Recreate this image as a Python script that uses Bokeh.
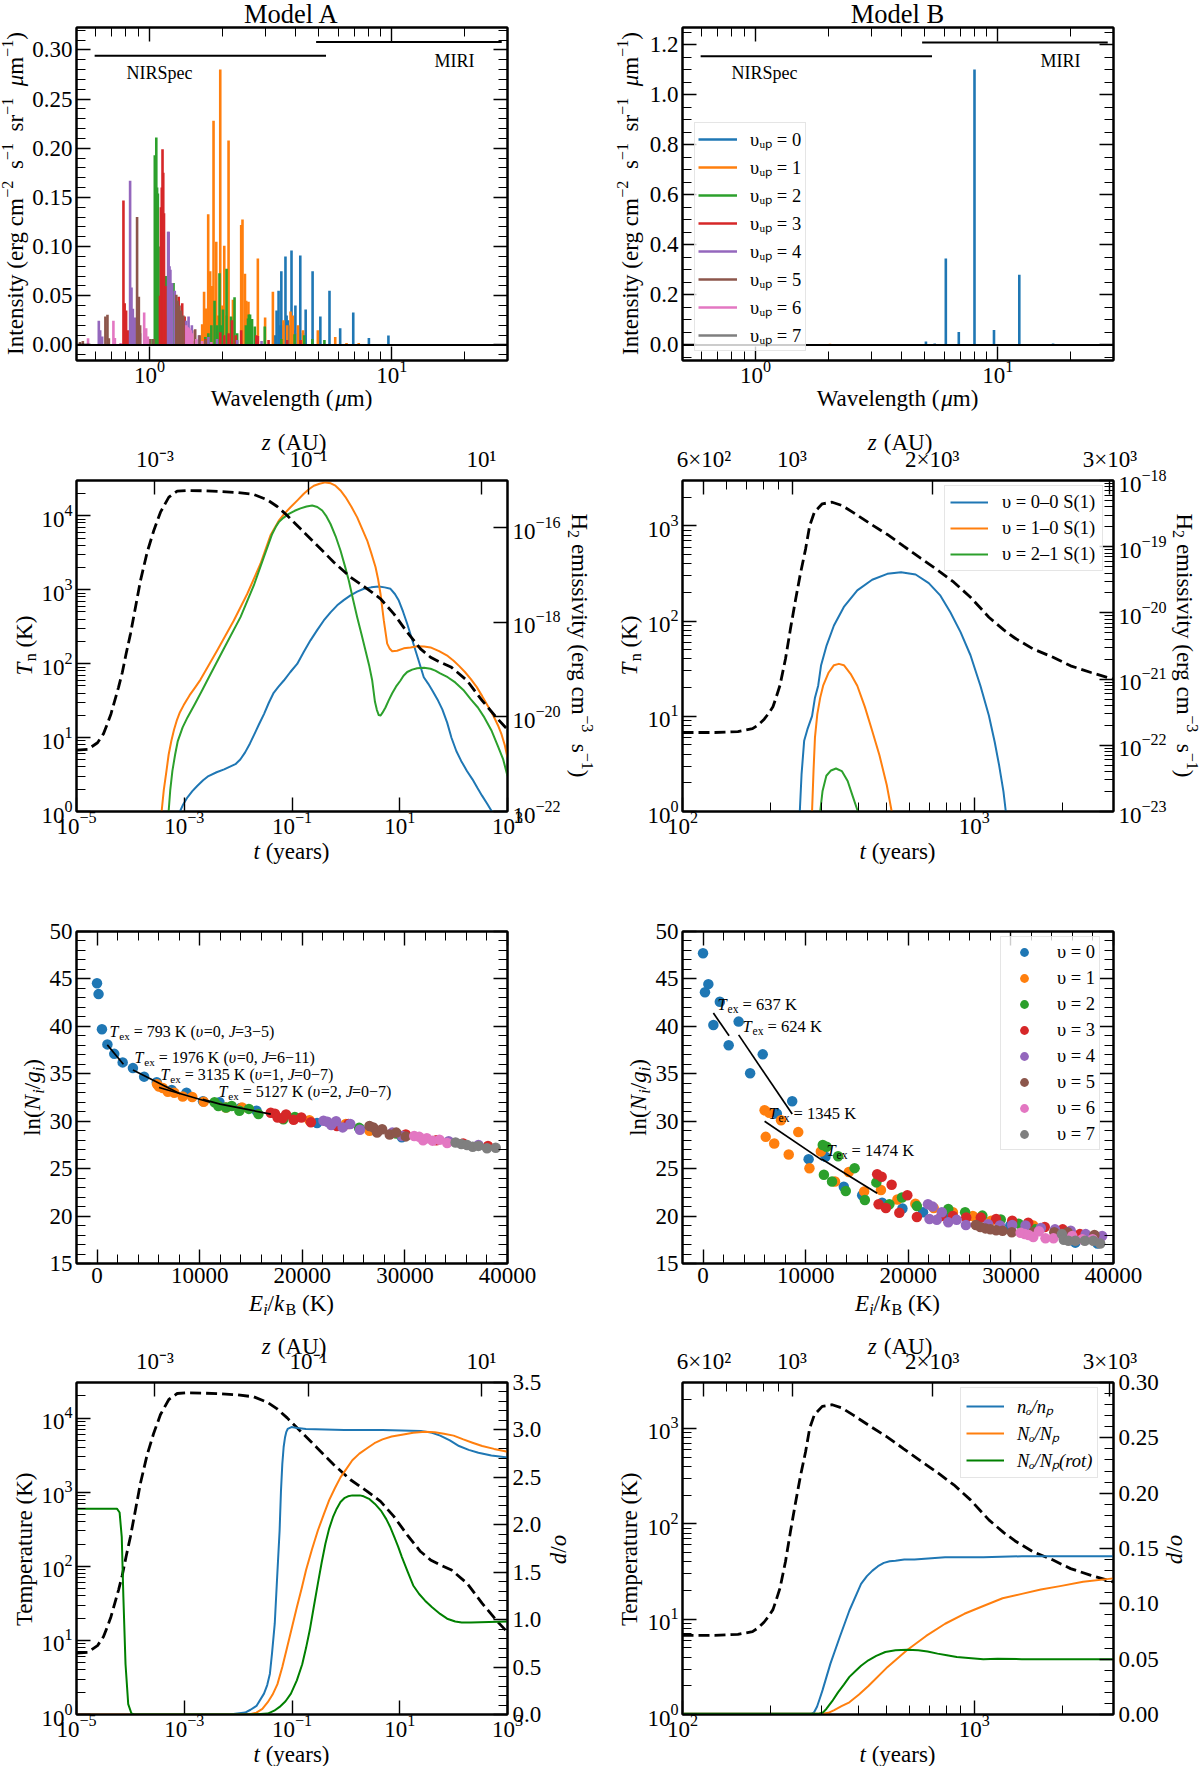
import math
import numpy as np
from bokeh.plotting import figure
from bokeh.layouts import column, row
from bokeh.models import (Range1d, LinearAxis, LogAxis, FixedTicker, LogTickFormatter, PrintfTickFormatter,
                          LogScale, LinearScale, Label, Legend, LegendItem, Span)
from bokeh.embed import file_html
from bokeh.resources import INLINE

FONT = "Liberation Serif"
TAB = ["#1f77b4", "#ff7f0e", "#2ca02c", "#d62728", "#9467bd", "#8c564b", "#e377c2", "#7f7f7f"]
DGREEN = "#008000"

# ---- spectra: Model A
specA_v0_wl = [3.3,3.346,3.41,3.46,3.5,3.55,3.64,3.68,3.73,3.8,3.855,3.93,4.0,4.1,4.19,4.3,4.41,4.71,5.07,5.53,6.12,6.93,8.04,9.68,12.3,17.1]
specA_v0_I = [.01,.035,.055,.02,.075,.02,.09,.03,.025,.02,.096,.015,.04,.012,.091,.012,.036,.075,.029,.055,.017,.033,.007,.0095,.001,.0006]
specA_v1_wl = [1.4,1.5,1.65,1.68,1.714,1.747,1.78,1.815,1.838,1.86,1.886,1.92,1.959,2.0,2.035,2.08,2.12,2.21,2.39,2.42,2.477,2.507,2.56,2.62,2.8,3.0,3.23,3.57,3.7,3.82,3.9,4.1,4.3,4.95,5.84,6.5,7.3]
specA_v1_I = [.003,.004,.021,.054,.037,.133,.075,.06,.228,.04,.105,.03,.28,.04,.101,.03,.208,.046,.122,.1276,.0725,.045,.044,.02,.088,.028,.054,.025,.02,.034,.03,.02,.015,.015,.008,.002,.002]
specA_v2_wl = [1.03,1.052,1.06,1.067,1.075,1.083,1.09,1.17,1.257,1.6,1.7,1.75,1.8,1.856,1.9,1.945,1.98,2.01,2.08,2.17,2.244,2.3,2.5,2.55,2.57,2.6,2.65,2.72,2.99,3.5,3.97,4.35,4.7,5.27]
specA_v2_I = [.006,.193,.19,.211,.16,.154,.10,.07,.063,.005,.008,.012,.02,.045,.02,.073,.02,.036,.0775,.029,.0486,.012,.02,.027,.031,.031,.0265,.0187,.0187,.006,.011,.01,.006,.005]
specA_v3_wl = [.781,.79,.801,.817,1.105,1.115,1.124,1.132,1.14,1.148,1.165,1.19,1.32,1.365,1.397,1.5,1.7,1.96,2.035,2.12,2.19,2.27,2.39,2.76,2.8,3.1,3.7,4.2]
specA_v3_I = [.147,.0425,.035,.015,.05,.14,.16,.199,.175,.134,.06,.03,.049,.0425,.029,.015,.006,.013,.01,.012,.025,.01,.015,.01,.009,.005,.005,.005]
specA_v4_wl = [.618,.626,.638,.832,.843,.854,.87,.915,1.194,1.2,1.21,1.22,1.24,1.272,1.417,1.45,1.496,1.6,1.75,1.9,2.3,2.9]
specA_v4_I = [.0245,.015,.0085,.167,.0585,.0367,.028,.012,.115,.115,.08,.0765,.063,.055,.0245,.029,.02,.01,.008,.006,.005,.004]
specA_v5_wl = [.517,.531,.658,.671,.68,.889,.904,.915,1.006,1.039,1.29,1.31,1.33,1.35,1.38,1.544,1.61,1.7]
specA_v5_I = [.003,.004,.029,.0306,.0068,.13,.049,.02,.006,.006,.051,.045,.04,.035,.03,.016,.01,.005]
specA_v6_wl = [.558,.71,.72,.76,.951,.969,.985,1.42,1.44,1.46,1.48,1.5,1.56,1.65,1.8]
specA_v6_I = [.0068,.0245,.007,.002,.033,.017,.0085,.02,.018,.017,.015,.012,.006,.004,.003]
specA_v7_wl = [.56,.6]
specA_v7_I = [.0005,.0005]

# ---- spectra: Model B
specB_v0_wl = [5.05,5.49,6.1,6.9,8.01,9.64,12.26,16.9]
specB_v0_I = [.014,.006,.345,.052,1.10,.06,.28,.006]
specB_v1_wl = [1.88,2.03,2.23,2.42,2.62,2.98]
specB_v1_I = [.002,.005,.004,.004,.002,.002]
specB_v2_wl = [2.4]
specB_v2_I = [.001]
specB_v3_wl = [1.2]
specB_v3_I = [.0005]
specB_v4_wl = [1.1]
specB_v4_I = [.0005]
specB_v5_wl = [1.0]
specB_v5_I = [.0003]
specB_v6_wl = [0.9]
specB_v6_I = [.0003]
specB_v7_wl = [0.8]
specB_v7_I = [.0003]

nirspec_wl = [0.594, 5.35]
miri_wl = [4.87, 28.4]
nirspec_A = [.294, .294]
miri_A = [.308, .308]
nirspec_B = [1.153, 1.153]
miri_B = [1.208, 1.208]

# ---- temperature profiles (log10)
logt_TA = [-5,-4.79,-4.61,-4.50,-4.43,-4.36,-4.29,-4.22,-4.15,-4.08,-3.998,-3.905,-3.812,-3.688,-3.565,-3.441,-3.286,-3.131,-2.945,-2.637,-2.327,-2.017,-1.709,-1.46,-1.275,-1.089,-0.842,-0.532,-0.224,0.086,0.396,0.643,0.89,1.138,1.385,1.571,1.75,1.96,2.25,2.53,2.82,3.00]
logT_A = [.83,.84,.93,1.05,1.18,1.32,1.50,1.68,1.88,2.13,2.403,2.764,3.125,3.508,3.801,4.049,4.252,4.333,4.342,4.338,4.328,4.315,4.288,4.216,4.125,4.004,3.824,3.598,3.372,3.169,3.012,2.877,2.674,2.425,2.2,2.087,2.02,1.95,1.77,1.50,1.25,1.11]
logt_TB = [2.00,2.11,2.19,2.24,2.26,2.28,2.295,2.31,2.32,2.334,2.353,2.370,2.387,2.404,2.422,2.436,2.452,2.479,2.513,2.547,2.587,2.644,2.702,2.758,2.816,2.873,2.930,2.987,3.050,3.10,3.14,3.20,3.27,3.33,3.40,3.477]
logT_B = [.83,.83,.84,.87,.91,.97,1.03,1.10,1.19,1.324,1.604,1.919,2.216,2.497,2.759,3.004,3.144,3.232,3.249,3.214,3.137,3.022,2.910,2.787,2.661,2.539,2.409,2.251,2.041,1.91,1.82,1.71,1.62,1.53,1.46,1.39]

# ---- emissivities (log10), Model A
emA_00_t, emA_00_e = map(list, zip(*[(-3.08,-22),(-3.02,-21.85),(-2.94,-21.70),(-2.85,-21.57),(-2.76,-21.46),(-2.65,-21.34),(-2.55,-21.25),(-2.4,-21.17),(-2.26,-21.11),(-2.05,-21.0),(-1.96,-20.9),(-1.87,-20.75),(-1.78,-20.56),(-1.70,-20.37),(-1.61,-20.15),(-1.52,-19.94),(-1.43,-19.70),(-1.34,-19.49),(-1.25,-19.36),(-1.152,-19.23),(-1.03,-19.05),(-0.904,-18.88),(-0.78,-18.62),(-0.657,-18.38),(-0.53,-18.16),(-0.41,-17.96),(-0.285,-17.79),(-0.161,-17.64),(-0.04,-17.53),(0.086,-17.43),(0.21,-17.35),(0.333,-17.29),(0.47,-17.26),(0.611,-17.24),(0.72,-17.26),(0.828,-17.29),(0.91,-17.40),(0.982,-17.54),(1.06,-17.77),(1.138,-18.03),(1.215,-18.31),(1.292,-18.595),(1.37,-18.88),(1.446,-19.16),(1.53,-19.3),(1.61,-19.45),(1.7,-19.63),(1.79,-19.84),(1.88,-20.12),(1.96,-20.44),(2.05,-20.72),(2.14,-20.93),(2.25,-21.15),(2.35,-21.32),(2.44,-21.5),(2.53,-21.67),(2.62,-21.83),(2.71,-22)]))
emA_10_t, emA_10_e = map(list, zip(*[(-3.42,-22),(-3.38,-21.55),(-3.33,-21.14),(-3.29,-20.8),(-3.24,-20.51),(-3.19,-20.27),(-3.14,-20.08),(-3.08,-19.9),(-3.01,-19.75),(-2.9,-19.54),(-2.8,-19.38),(-2.698,-19.21),(-2.389,-18.595),(-2.08,-17.96),(-1.832,-17.40),(-1.585,-16.76),(-1.399,-16.16),(-1.245,-15.85),(-1.14,-15.7),(-1.028,-15.565),(-0.9,-15.42),(-0.781,-15.28),(-0.68,-15.18),(-0.595,-15.11),(-0.49,-15.07),(-0.378,-15.04),(-0.28,-15.06),(-0.193,-15.11),(-0.1,-15.21),(-0.007,-15.35),(0.1,-15.55),(0.21,-15.78),(0.3,-16.02),(0.396,-16.27),(0.47,-16.53),(0.55,-16.83),(0.6,-17.1),(0.643,-17.40),(0.704,-17.96),(0.735,-18.2),(0.767,-18.45),(0.815,-18.56),(0.86,-18.61),(0.95,-18.6),(1.075,-18.55),(1.2,-18.53),(1.324,-18.505),(1.45,-18.51),(1.571,-18.53),(1.73,-18.61),(1.89,-18.71),(2.0,-18.81),(2.10,-18.92),(2.21,-19.05),(2.32,-19.20),(2.43,-19.37),(2.53,-19.56),(2.63,-19.76),(2.74,-19.98),(2.82,-20.17),(2.89,-20.37),(2.95,-20.6),(3.00,-20.86)]))
emA_21_t, emA_21_e = map(list, zip(*[(-3.29,-22),(-3.26,-21.55),(-3.22,-21.14),(-3.17,-20.8),(-3.12,-20.51),(-3.03,-20.22),(-2.94,-20.01),(-2.8,-19.72),(-2.66,-19.42),(-2.574,-19.23),(-2.266,-18.56),(-1.956,-17.89),(-1.709,-17.22),(-1.523,-16.62),(-1.368,-16.13),(-1.3,-15.98),(-1.245,-15.88),(-1.16,-15.79),(-1.059,-15.705),(-0.95,-15.64),(-0.842,-15.59),(-0.73,-15.55),(-0.625,-15.53),(-0.53,-15.56),(-0.439,-15.635),(-0.36,-15.76),(-0.285,-15.92),(-0.19,-16.18),(-0.10,-16.48),(-0.02,-16.8),(0.054,-17.115),(0.13,-17.5),(0.21,-17.89),(0.29,-18.25),(0.364,-18.595),(0.43,-18.9),(0.489,-19.23),(0.54,-19.68),(0.575,-19.85),(0.61,-19.96),(0.645,-19.97),(0.68,-19.91),(0.735,-19.8),(0.79,-19.66),(0.86,-19.5),(0.93,-19.36),(1.014,-19.23),(1.07,-19.13),(1.138,-19.05),(1.23,-19.0),(1.324,-18.97),(1.45,-18.96),(1.571,-18.98),(1.66,-19.02),(1.75,-19.08),(1.89,-19.16),(2.03,-19.27),(2.18,-19.43),(2.32,-19.63),(2.45,-19.8),(2.57,-20.01),(2.7,-20.28),(2.82,-20.61),(2.92,-20.9),(3.00,-21.25)]))

# ---- emissivities (log10), Model B
emB_00_t = [2.402,2.408,2.417,2.428,2.444,2.454,2.465,2.475,2.494,2.519,2.553,2.599,2.650,2.702,2.749,2.799,2.844,2.884,2.918,2.953,2.987,3.021,3.05,3.07,3.085,3.10,3.108]
emB_00_e = [-23,-22.44,-21.93,-21.76,-21.56,-21.28,-21.10,-20.79,-20.49,-20.19,-19.91,-19.66,-19.50,-19.41,-19.385,-19.42,-19.55,-19.74,-19.99,-20.29,-20.64,-21.10,-21.55,-21.95,-22.3,-22.7,-23]
emB_10_t = [2.444,2.449,2.454,2.462,2.472,2.482,2.501,2.519,2.536,2.553,2.576,2.599,2.625,2.650,2.675,2.700,2.717]
emB_10_e = [-23,-22.39,-21.88,-21.53,-21.28,-21.10,-20.90,-20.79,-20.77,-20.79,-20.92,-21.10,-21.42,-21.78,-22.15,-22.6,-23]
emB_21_t = [2.472,2.480,2.493,2.509,2.526,2.546,2.566,2.585,2.601]
emB_21_e = [-23,-22.69,-22.46,-22.38,-22.35,-22.39,-22.54,-22.79,-23]

# ---- ortho/para, Model A
opA_n_t, opA_n = map(list, zip(*[(-5,0),(-2.16,0),(-1.87,.02),(-1.77,.05),(-1.66,.09),(-1.52,.22),(-1.46,.31),(-1.41,.43),(-1.37,.65),(-1.32,.96),(-1.28,1.40),(-1.23,1.94),(-1.205,2.35),(-1.18,2.64),(-1.155,2.82),(-1.13,2.92),(-1.105,2.98),(-1.08,3.01),(-1.01,3.03),(-0.9,3.02),(-0.74,3.01),(-0.03,3.00),(0.68,3.00),(1.39,2.99),(1.6,2.97),(1.75,2.94),(1.93,2.89),(2.10,2.83),(2.28,2.79),(2.46,2.76),(2.7,2.73),(3.00,2.71)]))
opA_N_t, opA_N = map(list, zip(*[(-5,0),(-1.87,0),(-1.76,.005),(-1.66,.02),(-1.55,.06),(-1.45,.13),(-1.36,.21),(-1.27,.32),(-1.18,.50),(-1.09,.71),(-1.0,.92),(-0.91,1.13),(-0.82,1.33),(-0.74,1.52),(-0.63,1.74),(-0.52,1.94),(-0.41,2.11),(-0.31,2.26),(-0.2,2.39),(-0.10,2.50),(0.01,2.59),(0.12,2.68),(0.25,2.75),(0.40,2.81),(0.53,2.86),(0.68,2.90),(0.85,2.93),(1.04,2.95),(1.25,2.97),(1.47,2.98),(1.65,2.975),(1.82,2.96),(2.0,2.94),(2.18,2.90),(2.35,2.865),(2.53,2.83),(2.75,2.80),(3.00,2.77)]))
opA_R_t, opA_R = map(list, zip(*[(-5,2.17),(-4.25,2.17),(-4.20,2.13),(-4.16,1.87),(-4.13,1.24),(-4.09,.53),(-4.04,.11),(-3.98,.01),(-3.93,0),(-1.87,0),(-1.65,.002),(-1.45,.01),(-1.33,.04),(-1.23,.08),(-1.12,.14),(-1.02,.22),(-0.91,.36),(-0.81,.53),(-0.74,.70),(-0.67,.89),(-0.60,1.12),(-0.52,1.38),(-0.45,1.60),(-0.38,1.80),(-0.31,1.96),(-0.24,2.08),(-0.17,2.17),(-0.10,2.24),(-0.03,2.28),(0.04,2.30),(0.12,2.31),(0.19,2.31),(0.26,2.31),(0.33,2.30),(0.44,2.27),(0.54,2.22),(0.65,2.15),(0.75,2.06),(0.82,1.98),(0.90,1.87),(0.97,1.77),(1.04,1.66),(1.15,1.50),(1.25,1.36),(1.36,1.27),(1.47,1.20),(1.60,1.13),(1.75,1.06),(1.88,1.01),(2.03,.98),(2.15,.97),(2.32,.97),(3.00,.98)]))

# ---- ortho/para, Model B
opB_n_t, opB_n = map(list, zip(*[(2.0,.0006),(2.441,.0006),(2.451,.002),(2.461,.007),(2.470,.014),(2.480,.022),(2.507,.046),(2.539,.070),(2.572,.094),(2.612,.118),(2.632,.125),(2.651,.130),(2.67,.134),(2.690,.137),(2.71,.1385),(2.730,.139),(2.76,.14),(2.795,.140),(2.900,.142),(3.031,.142),(3.163,.143),(3.477,.143)]))
opB_N_t, opB_N = map(list, zip(*[(2.0,.0006),(2.480,.0006),(2.50,.0015),(2.520,.004),(2.545,.0075),(2.572,.011),(2.605,.018),(2.638,.026),(2.703,.043),(2.769,.058),(2.835,.071),(2.900,.082),(2.966,.091),(3.031,.098),(3.097,.105),(3.163,.109),(3.228,.113),(3.294,.116),(3.373,.120),(3.477,.123)]))
opB_R_t, opB_R = map(list, zip(*[(2.0,.0006),(2.467,.0006),(2.48,.0015),(2.493,.005),(2.513,.012),(2.533,.020),(2.553,.027),(2.572,.034),(2.592,.039),(2.612,.044),(2.637,.049),(2.664,.053),(2.695,.0565),(2.730,.058),(2.77,.0585),(2.808,.058),(2.84,.057),(2.874,.055),(2.906,.0535),(2.940,.052),(2.98,.051),(3.031,.050),(3.08,.0503),(3.163,.050),(3.477,.050)]))

# ---- excitation diagrams, Model A
exA_E = [
 [0,150,480,1010,1680,2500,3500,4590,5820,7270,8720,10330,11930,13980,15550,21440,25600,29700],
 [5850,6040,6410,6900,7530,8350,9280,10400,12570,14130,20700,24240,26550],
 [11450,11820,12570,13120,13870,14800,15730,18160,19280,25540,29160],
 [16930,17340,17600,18080,18420,19160,19910,20840,23380,24500,30090,33070,35680,38100],
 [22070,22450,22820,23300,23940,24680,25620,28780,29720,34270,37170],
 [26550,26920,27290,27780,28520,29160,30090],
 [30910,31400,31770,32140,32700,33370,34120],
 [34940,35500,36060,36610,37170,38000,38850],
]
exA_lnN = [
 [44.55,43.4,39.7,38.1,37.1,36.2,35.6,34.7,34.1,33.3,33.0,32.1,32.0,31.4,31.1,29.8,29.2,28.3],
 [33.9,33.65,33.5,33.1,33.0,32.6,32.55,32.05,31.45,31.45,30.1,29.7,29.0],
 [32.0,31.6,31.45,31.6,31.1,31.3,30.75,30.2,30.45,29.3,28.7],
 [30.9,30.8,30.4,30.3,30.7,30.15,30.4,29.9,29.5,29.7,28.6,28.0,27.65,27.4],
 [30.05,29.95,29.6,30.0,29.35,29.7,29.1,28.8,28.45,27.9,27.5],
 [29.5,29.35,28.8,29.15,28.6,28.8,28.4],
 [28.45,28.35,28.0,28.2,27.95,28.05,27.7],
 [27.75,27.6,27.5,27.3,27.4,27.15,27.2],
]
fitA_E = [[1000,2570],[3500,8090],[6040,11000],[10300,12000,16930]]
fitA_lnN = [[38.05,36.0],[35.4,32.9],[33.55,32.0],[32.3,31.8,30.75]]

# ---- excitation diagrams, Model B
exB_E = [
 [0,190,520,1010,1640,2500,3470,4590,5820,7200,8690,10290,11930,13720,15510,17450,19430,21440,23600,29940,36280,38440],
 [6000,6450,7600,9280,6110,6940,8350,10370,11480,12860,14210,15700,17340,18940,20690,22480,24350,26290,28080,32180],
 [11670,12040,13160,14770,11780,12570,13910,15770,16890,19390,18160,20840,23900,25540,27220,29010,30760,32360],
 [16970,17410,18380,19910,17110,17820,19130,20840,23230,24350,25650,27070,28560,30130,31690,33300,35050,36730,38140],
 [21920,22370,23270,22070,22780,23900,24720,25620,27780,28930,30130,31430,32920,34300,35830,37290,38890],
 [26590,27030,27520,28000,28560,29190,30090,32180,34230,35530,38140],
 [30950,31360,31730,32180,32740,33370,34150,35980,36950,37960],
 [34970,35160,35610,36280,37210,38030,38700],
]
exB_lnN = [
 [47.7,43.6,44.45,40.15,42.6,38.0,40.5,35.05,37.05,30.8,32.1,26.0,26.25,23.1,22.2,21.4,20.8,20.4,20.2,19.0,17.2,17.1],
 [31.15,30.9,30.1,28.85,28.35,27.65,26.5,25.05,26.8,23.65,24.65,22.6,22.75,21.75,21.3,20.85,20.4,20.0,19.5,19.0],
 [27.5,27.3,26.3,25.05,24.35,23.65,22.65,21.7,23.55,21.95,21.25,21.05,20.75,20.4,20.05,19.65,19.2,18.6],
 [24.4,24.15,23.3,22.2,21.25,20.85,20.35,19.9,20.0,20.0,19.85,19.85,19.7,19.5,19.3,18.85,18.6,18.1,17.9],
 [21.25,21.0,20.4,19.7,19.6,19.35,19.6,19.05,19.15,19.0,19.05,19.0,18.75,18.6,18.45,18.1,17.9],
 [19.05,18.85,18.7,18.6,18.5,18.45,18.3,18.3,18.3,18.3,18.0],
 [18.25,18.1,18.0,17.8,18.4,17.65,17.65,17.9,17.55,17.55],
 [18.1,17.5,17.4,17.4,17.4,17.4,17.1],
]
fitB_E = [[1010,2540],[3470,8690],[6000,11600],[11600,16970]]
fitB_lnN = [[41.4,39.0],[39.1,30.75],[30.0,25.9],[26.0,22.4]]

# ---- tick positions
z_top_A_pos = [-3.544, -0.694, 2.517]
z_top_A_lab = ["10⁻³", "10⁻¹", "10¹"]
z_top_B_pos = [2.0735, 2.3753, 2.8556, 3.4646]
z_top_B_lab = ["6×10²", "10³", "2×10³", "3×10³"]
z_top_B_minor = [2.152, 2.218, 2.277, 2.329]

# ---- layout
WIDE = 600
HEIGHT = [420, 460, 460, 426]
TOP = [27, 60, 51, 42]
BOTTOM = [60, 69, 77, 52]
LEFT = [76, 82]
RIGHT = [93, 87]
PAGE_H = sum(HEIGHT)
TICK_PX = "23px"

overlay = figure(width=1200, height=PAGE_H, x_range=Range1d(0, 1200), y_range=Range1d(0, PAGE_H),
                 min_border_left=0, min_border_right=0, min_border_top=0, min_border_bottom=0,
                 output_backend="svg", toolbar_location=None, margin=(-PAGE_H, 0, 0, 0))
overlay.axis.visible = False
overlay.grid.visible = False
overlay.outline_line_color = None
overlay.background_fill_color = None
overlay.border_fill_color = None

WID = {' ':.25,'a':.444,'b':.5,'c':.444,'d':.5,'e':.444,'f':.333,'g':.5,'h':.5,'i':.278,'j':.278,'k':.5,'l':.278,'m':.778,
       'n':.5,'o':.5,'p':.5,'q':.5,'r':.333,'s':.389,'t':.278,'u':.5,'v':.5,'w':.722,'x':.5,'y':.5,'z':.444,'(':.333,')':.333,
       '.':.25,',':.25,'=':.564,'−':.564,'–':.5,'/':.278,'I':.333,'N':.722,'W':.944,'M':.889,'A':.722,'B':.667,'E':.611,'H':.722,
       'K':.722,'R':.667,'S':.556,'T':.611,'J':.389,'μ':.5,'υ':.5}

def seg_width(s, size):
    return sum(WID.get(c, .5) for c in s) * size

STY = {'r': (1, 0, 'normal'), 'i': (1, 0, 'italic'), '^': (.7, .42, 'normal'), '_': (.7, -.2, 'normal'), 'I': (.7, -.2, 'italic')}
BASE_FIX = 0.27

def txt(X, Y, segs, size, angle=0, center=False):
    """Place a run of styled text pieces, with X, Y the page position of the baseline start or centre."""
    if isinstance(segs, str):
        segs = [(segs, 'r')]
    ca, sa = math.cos(math.radians(angle)), math.sin(math.radians(angle))
    total = sum(seg_width(s, size * STY[k][0]) for s, k in segs)
    x, y = X, PAGE_H - Y
    if center:
        x -= ca * total / 2
        y -= sa * total / 2
    adv = 0
    for s, k in segs:
        f, sh, st = STY[k]
        sz = size * f
        lead = seg_width(s[:len(s) - len(s.lstrip())], sz)
        sh2 = sh * size + BASE_FIX * sz
        a2 = adv + lead
        overlay.add_layout(Label(x=x + a2 * ca - sh2 * sa, y=y + a2 * sa + sh2 * ca,
                                 x_units="screen", y_units="screen", text=s.strip(), angle=angle, angle_units="deg",
                                 text_font=FONT, text_font_size=f"{sz:.1f}px", text_font_style=st, text_color="black",
                                 text_align="left", text_baseline="alphabetic"))
        adv += seg_width(s, sz)

def logminor(lo, hi):
    out = []
    for e in range(lo, hi):
        for m in range(2, 10):
            out.append(m * 10.0 ** e)
    return out

def style_ax(ax, major, minor, fmt=None, labels=True, standoff=4):
    ax.ticker = FixedTicker(ticks=major, minor_ticks=minor)
    ax.major_tick_in = 14
    ax.major_tick_out = 0
    ax.minor_tick_in = 9
    ax.minor_tick_out = 0
    ax.major_tick_line_color = "black"
    ax.minor_tick_line_color = "black"
    ax.major_tick_line_width = 1.4
    ax.minor_tick_line_width = 1.0
    ax.axis_line_color = "black"
    ax.axis_line_width = 2
    ax.major_label_text_font = FONT
    ax.major_label_text_font_size = TICK_PX
    ax.major_label_text_color = "black" if labels else None
    ax.major_label_standoff = standoff
    if fmt is not None:
        ax.formatter = fmt

def panel(c, r, xr, yr, xtype="linear", ytype="linear"):
    p = figure(width=WIDE, height=HEIGHT[r], x_axis_type=xtype, y_axis_type=ytype,
               x_range=Range1d(*xr), y_range=Range1d(*yr),
               min_border_left=LEFT[c], min_border_right=RIGHT[c], min_border_top=TOP[r], min_border_bottom=BOTTOM[r],
               output_backend="svg", toolbar_location=None)
    p.grid.visible = False
    p.outline_line_color = "black"
    p.outline_line_width = 2
    return p

def make_legend(p, items, loc, gw, st, lw, gh, lh, sp, pad, italic=False):
    lg = Legend(items=[LegendItem(label=t, renderers=[rd]) for t, rd in items], location=loc, orientation="vertical",
                glyph_width=gw, glyph_height=gh, label_standoff=st, label_width=lw, label_height=lh, spacing=sp,
                padding=pad, margin=0, label_text_font=FONT, label_text_font_size="18.5px",
                label_text_font_style="italic" if italic else "normal", label_text_color="black",
                border_line_color="#cccccc", border_line_width=1.5, background_fill_color="white", background_fill_alpha=0.8)
    p.add_layout(lg)

MINOR_SPEC = [.5,.6,.7,.8,.9,2.,3.,4.,5.,6.,7.,8.,9.,20.,30.]

def spectrum(c, xs, hs, ylim, ymaj, ymin, fmt, nir, mir, title, nx, mx):
    p = panel(c, 0, (0.5, 30), ylim, xtype="log")
    rs = []
    for i in range(8):
        rs.append(p.segment(x0=xs[i], x1=xs[i], y0=[0] * len(xs[i]), y1=hs[i], line_color=TAB[i], line_width=2.6))
    p.add_layout(Span(location=0, dimension="width", line_color="black", line_width=2))
    p.line(nirspec_wl, nir, line_color="black", line_width=2)
    p.line(miri_wl, mir, line_color="black", line_width=2)
    style_ax(p.xaxis[0], [1, 10], MINOR_SPEC, LogTickFormatter(), standoff=0)
    style_ax(p.yaxis[0], ymaj, ymin, PrintfTickFormatter(format=fmt))
    top = LogAxis()
    style_ax(top, [1, 10], MINOR_SPEC, labels=False)
    p.add_layout(top, "above")
    right = LinearAxis()
    style_ax(right, ymaj, ymin, labels=False)
    p.add_layout(right, "right")
    txt([291, 897][c], 21, title, 26.5, center=True)
    txt([291, 897][c], 404, [("Wavelength (", 'r'), ("μ", 'i'), ("m)", 'r')], 23, center=True)
    txt([21.5, 636][c], 193, [("Intensity (erg cm", 'r'), ("−2", '^'), ("  s", 'r'), ("−1", '^'), ("  sr", 'r'), ("−1", '^'), ("  ", 'r'), ("μ", 'i'), ("m", 'r'), ("−1", '^'), (")", 'r')], 23, angle=90, center=True)
    txt(nx[0], nx[1], "NIRSpec", 18)
    txt(mx[0], mx[1], "MIRI", 18)
    return p, rs

def pw(a):
    return [10.0 ** v for v in a]

def ttop(p, xr, pos, lab, minor):
    p.extra_x_ranges = {"ztop": Range1d(*xr)}
    p.extra_x_scales = {"ztop": LinearScale()}
    top = LinearAxis(x_range_name="ztop")
    style_ax(top, pos, minor, standoff=9)
    top.major_label_overrides = dict(zip(pos, lab))
    p.add_layout(top, "above")

T_LEFT_MAJ = [1, 10, 100, 1000, 10000]
T_B_MAJ = [1, 10, 100, 1000]

# --- Row 1
xsA = [specA_v0_wl, specA_v1_wl, specA_v2_wl, specA_v3_wl, specA_v4_wl, specA_v5_wl, specA_v6_wl, specA_v7_wl]
hsA = [specA_v0_I, specA_v1_I, specA_v2_I, specA_v3_I, specA_v4_I, specA_v5_I, specA_v6_I, specA_v7_I]
xsB = [specB_v0_wl, specB_v1_wl, specB_v2_wl, specB_v3_wl, specB_v4_wl, specB_v5_wl, specB_v6_wl, specB_v7_wl]
hsB = [specB_v0_I, specB_v1_I, specB_v2_I, specB_v3_I, specB_v4_I, specB_v5_I, specB_v6_I, specB_v7_I]

p11, _ = spectrum(0, xsA, hsA, (-0.0158, 0.3228), [0, .05, .10, .15, .20, .25, .30],
                  [round(i * .01, 2) for i in range(-1, 33) if i % 5], "%.2f", nirspec_A, miri_A, "Model A", (126, 77), (434, 65))
p12, rsB = spectrum(1, xsB, hsB, (-0.062, 1.268), [0, .2, .4, .6, .8, 1.0, 1.2],
                    [round(i * .05, 2) for i in range(-1, 26) if i % 4], "%.1f", nirspec_B, miri_B, "Model B", (731, 77), (1040, 65))
make_legend(p12, [(f"υᵤₚ = {i}", rsB[i]) for i in range(8)], (12, 9), 39, 13, 52, 22, 22, 3, 3)

# --- Row 2
def emis(c, tlogs, elogs, Ttl, Tv, xr, xmaj, xmin, yr, ymaj, er, emaj, emin, zxr, zpos, zlab, zmin):
    p = panel(c, 1, xr, yr, xtype="log", ytype="log")
    p.extra_y_ranges = {"em": Range1d(*er)}
    p.extra_y_scales = {"em": LogScale()}
    rs = []
    for i in range(3):
        rs.append(p.line(pw(tlogs[i]), pw(elogs[i]), y_range_name="em", line_color=TAB[i], line_width=2, line_join="round"))
    p.line(pw(Ttl), pw(Tv), line_color="black", line_width=2.8, line_dash=[11, 5])
    style_ax(p.xaxis[0], xmaj, xmin, LogTickFormatter(), standoff=0)
    style_ax(p.yaxis[0], ymaj, logminor(0, 5), LogTickFormatter())
    right = LogAxis(y_range_name="em")
    style_ax(right, emaj, emin, LogTickFormatter(), standoff=5)
    p.add_layout(right, "right")
    ttop(p, zxr, zpos, zlab, zmin)
    txt([291, 897][c], 857, [("t", 'i'), (" (years)", 'r')], 23, center=True)
    txt([291, 897][c], 448, [("z", 'i'), (" (AU)", 'r')], 23, center=True)
    txt([30, 635][c], 645, [("T", 'i'), ("n", '_'), (" (K)", 'r')], 23, angle=90, center=True)
    txt([573, 1178][c], 645, [("H", 'r'), ("2", '_'), (" emissivity (erg cm", 'r'), ("−3", '^'), ("  s", 'r'), ("−1", '^'), (")", 'r')], 23, angle=-90, center=True)
    return p, rs

p21, _ = emis(0, [emA_00_t, emA_10_t, emA_21_t], [emA_00_e, emA_10_e, emA_21_e], logt_TA, logT_A, (1e-5, 1e3),
              [1e-5, 1e-3, 1e-1, 1e1, 1e3], [], (1, 3e4), T_LEFT_MAJ, (1e-22, 1e-15), [1e-22, 1e-20, 1e-18, 1e-16], [],
              (-5, 3), z_top_A_pos, z_top_A_lab, [])
xmB = [200., 300., 400., 500., 600., 700., 800., 900., 2000.]
p22, rs22 = emis(1, [emB_00_t, emB_10_t, emB_21_t], [emB_00_e, emB_10_e, emB_21_e], logt_TB, logT_B, (100, 3000),
                 [100, 1000], xmB, (1, 3000), T_B_MAJ, (1e-23, 1e-18), [1e-23, 1e-22, 1e-21, 1e-20, 1e-19, 1e-18], logminor(-23, -18),
                 (2, math.log10(3000)), z_top_B_pos, z_top_B_lab, z_top_B_minor)
make_legend(p22, [("υ = 0–0 S(1)", rs22[0]), ("υ = 1–0 S(1)", rs22[1]), ("υ = 2–1 S(1)", rs22[2])], (262, 240), 38, 14, 95, 22, 22, 4, 5)

# --- Row 3
def excite(c, E, L, fE, fL, notes, note_px):
    p = panel(c, 2, (-2000, 40000), (15, 50))
    rs = []
    for i in range(8):
        rs.append(p.scatter(E[i], L[i], marker="circle", size=10.5, fill_color=TAB[i], line_color=TAB[i], line_width=0))
    for a, b in zip(fE, fL):
        p.line(a, b, line_color="black", line_width=1.7)
    xmaj = [0, 10000, 20000, 30000, 40000]
    xmin = [i * 2000 for i in range(-1, 21) if i % 5]
    ymaj = [15, 20, 25, 30, 35, 40, 45, 50]
    ymin = [i for i in range(15, 51) if i % 5]
    style_ax(p.xaxis[0], xmaj, xmin, PrintfTickFormatter(format="%d"))
    style_ax(p.yaxis[0], ymaj, ymin, PrintfTickFormatter(format="%d"))
    top = LinearAxis()
    style_ax(top, xmaj, xmin, labels=False)
    p.add_layout(top, "above")
    right = LinearAxis()
    style_ax(right, ymaj, ymin, labels=False)
    p.add_layout(right, "right")
    txt([291, 897][c], 1309, [("E", 'i'), ("i", 'I'), ("/", 'r'), ("k", 'i'), ("B", '_'), (" (K)", 'r')], 23, center=True)
    txt([38, 644][c], 1097, [("ln(", 'r'), ("N", 'i'), ("i", 'I'), ("/", 'r'), ("g", 'i'), ("i", 'I'), (")", 'r')], 23, angle=90, center=True)
    for X, Y, tail in notes:
        txt(X, Y, [("T", 'i'), ("ex", '_')] + tail, note_px)
    return p, rs

p31, _ = excite(0, exA_E, exA_lnN, fitA_E, fitA_lnN, [
    (109, 1035, [(" = 793 K (", 'r'), ("υ", 'i'), ("=0, ", 'r'), ("J", 'i'), ("=3−5)", 'r')]),
    (134, 1061, [(" = 1976 K (", 'r'), ("υ", 'i'), ("=0, ", 'r'), ("J", 'i'), ("=6−11)", 'r')]),
    (160, 1078, [(" = 3135 K (", 'r'), ("υ", 'i'), ("=1, ", 'r'), ("J", 'i'), ("=0−7)", 'r')]),
    (218, 1095, [(" = 5127 K (", 'r'), ("υ", 'i'), ("=2, ", 'r'), ("J", 'i'), ("=0−7)", 'r')]),
], 16)
p32, rs32 = excite(1, exB_E, exB_lnN, fitB_E, fitB_lnN, [
    (717, 1008, [(" = 637 K", 'r')]),
    (742, 1030, [(" = 624 K", 'r')]),
    (768, 1117, [(" = 1345 K", 'r')]),
    (826, 1154, [(" = 1474 K", 'r')]),
], 16.5)
make_legend(p32, [(f"υ = {i}", rs32[i]) for i in range(8)], (318, 113), 38, 14, 32, 22, 22, 4, 4)

# --- Row 4
def ortho(c, series, cols, Ttl, Tv, xr, xmaj, xmin, yr, ymaj, rr, rmaj, rmin, rfmt, zxr, zpos, zlab, zmin):
    p = panel(c, 3, xr, yr, xtype="log", ytype="log")
    p.extra_y_ranges = {"op": Range1d(*rr)}
    p.extra_y_scales = {"op": LinearScale()}
    p.line(pw(Ttl), pw(Tv), line_color="black", line_width=2.8, line_dash=[11, 5])
    rs = []
    for (t, v), col in zip(series, cols):
        rs.append(p.line(pw(t), v, y_range_name="op", line_color=col, line_width=2, line_join="round"))
    style_ax(p.xaxis[0], xmaj, xmin, LogTickFormatter(), standoff=0)
    style_ax(p.yaxis[0], ymaj, logminor(0, 5), LogTickFormatter())
    right = LinearAxis(y_range_name="op")
    style_ax(right, rmaj, rmin, PrintfTickFormatter(format=rfmt), standoff=5)
    p.add_layout(right, "right")
    ttop(p, zxr, zpos, zlab, zmin)
    txt([291, 897][c], 1760, [("t", 'i'), (" (years)", 'r')], 23, center=True)
    txt([291, 897][c], 1352, [("z", 'i'), (" (AU)", 'r')], 23, center=True)
    txt([30, 635][c], 1548, "Temperature (K)", 23, angle=90, center=True)
    txt([564, 1180][c], 1549, [("d", 'i'), ("/", 'r'), ("o", 'i')], 23, angle=90, center=True)
    return p, rs

p41, _ = ortho(0, [(opA_n_t, opA_n), (opA_N_t, opA_N), (opA_R_t, opA_R)], [TAB[0], TAB[1], DGREEN], logt_TA, logT_A, (1e-5, 1e3),
               [1e-5, 1e-3, 1e-1, 1e1, 1e3], [], (1, 3.03e4), T_LEFT_MAJ, (0, 3.5), [i * .5 for i in range(8)],
               [round(i * .1, 1) for i in range(36) if i % 5], "%.1f", (-5, 3), z_top_A_pos, z_top_A_lab, [])
p42, rs42 = ortho(1, [(opB_n_t, opB_n), (opB_N_t, opB_N), (opB_R_t, opB_R)], [TAB[0], TAB[1], DGREEN], logt_TB, logT_B, (100, 3000),
                  [100, 1000], xmB, (1, 3036), T_B_MAJ, (0, .30), [round(i * .05, 2) for i in range(7)],
                  [round(i * .01, 2) for i in range(31) if i % 5], "%.2f", (2, math.log10(3000)), z_top_B_pos, z_top_B_lab, z_top_B_minor)
make_legend(p42, [("nₒ/nₚ", rs42[0]), ("Nₒ/Nₚ", rs42[1]), ("Nₒ/Nₚ(rot)", rs42[2])], (278, 236), 38, 13, 75, 22, 22, 2, 5, italic=True)

layout = column(row(p11, p12), row(p21, p22), row(p31, p32), row(p41, p42), overlay)
open("out.html", "w").write(file_html(layout, INLINE))
